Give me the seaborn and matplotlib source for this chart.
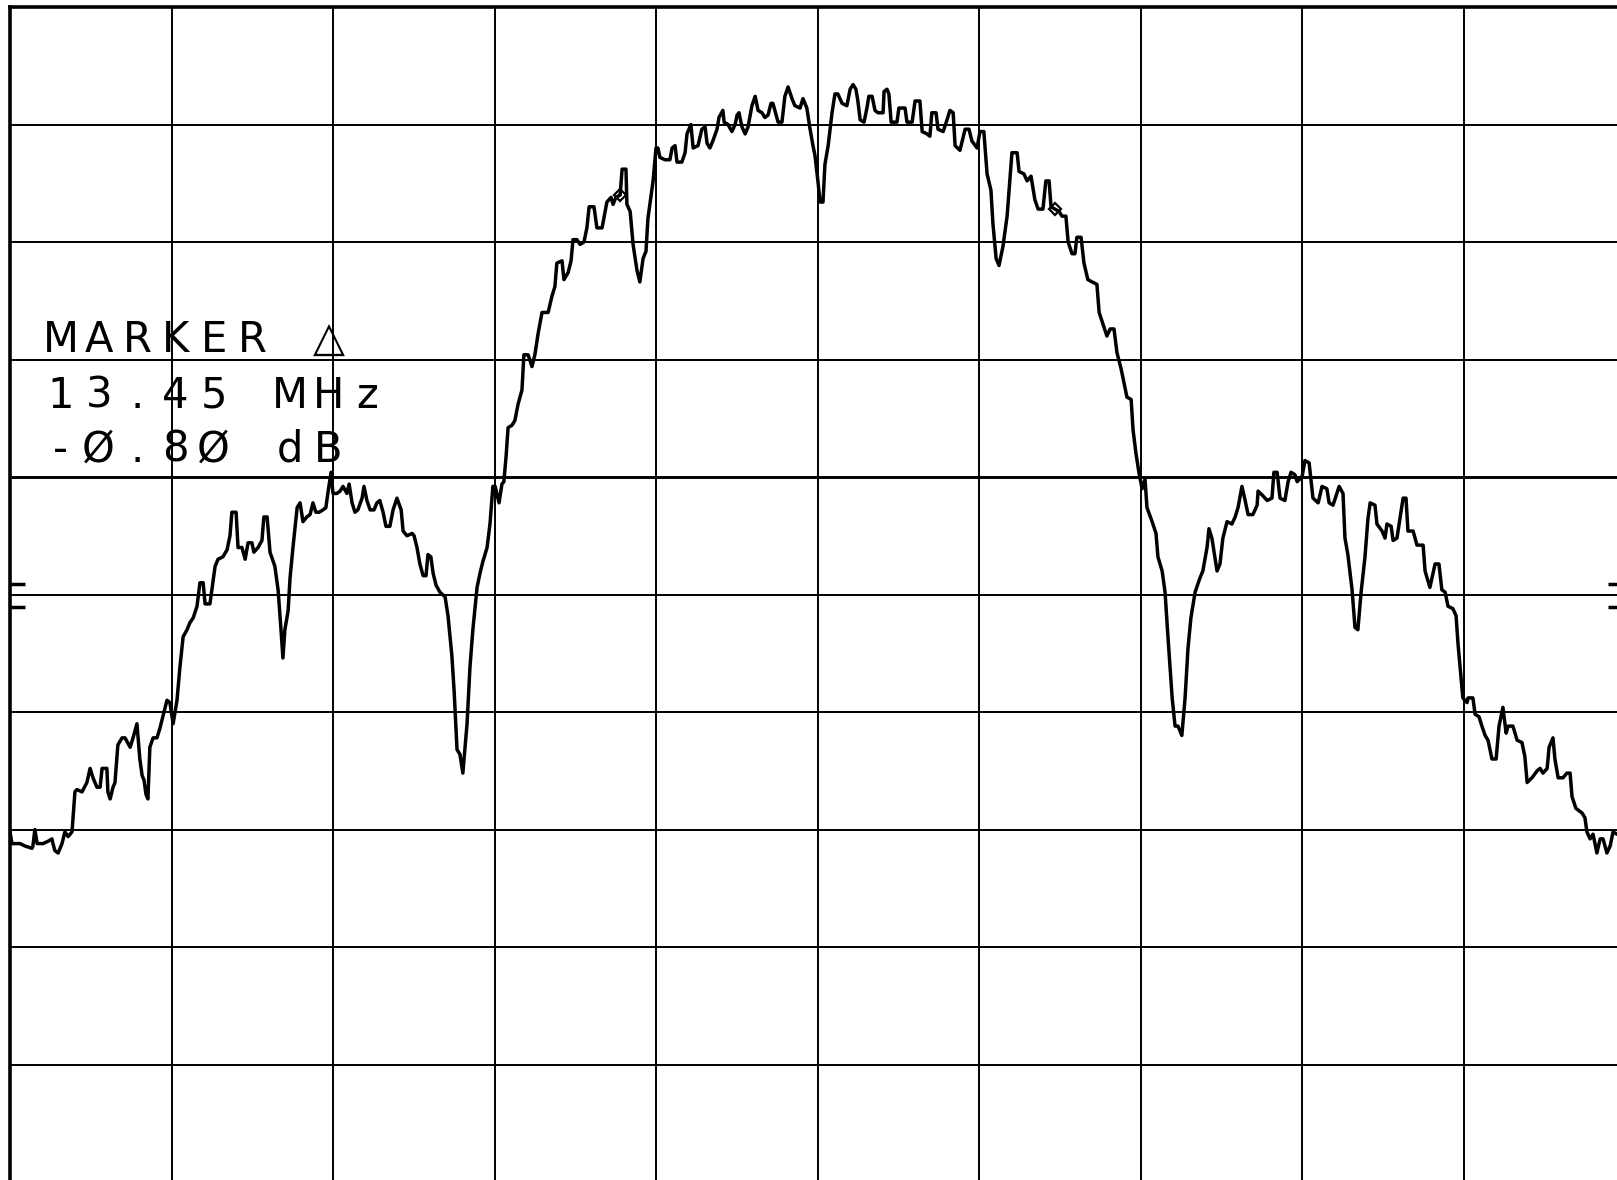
import numpy as np
import matplotlib
matplotlib.use("Agg")
import matplotlib.pyplot as plt
import seaborn as sns

# spectrum analyzer trace, 5 MHz/div around centre, 5 dB/div from reference level
freq_mhz = [
    -25.00, -24.94, -24.69, -24.54, -24.32, -24.29, -24.23, -24.16, -23.98, -23.82,
    -23.70, -23.67, -23.61, -23.51, -23.39, -23.30, -23.20, -23.08, -22.99, -22.93,
    -22.77, -22.62, -22.52, -22.43, -22.31, -22.21, -22.15, -22.00, -21.97, -21.90,
    -21.81, -21.75, -21.66, -21.53, -21.44, -21.28, -21.19, -21.07, -20.98, -20.91,
    -20.85, -20.79, -20.73, -20.67, -20.57, -20.45,
    -20.36, -20.23, -20.14, -20.05, -19.95, -19.83, -19.74, -19.64, -19.52, -19.43,
    -19.33, -19.21, -19.12, -19.02, -18.96, -18.81, -18.65, -18.56, -18.41, -18.28,
    -18.19, -18.13, -18.00, -17.94, -17.82, -17.72, -17.63, -17.51, -17.45, -17.32,
    -17.20, -17.14, -17.04, -16.95, -16.80, -16.70, -16.61, -16.55, -16.49, -16.39,
    -16.33, -16.24, -16.11, -16.02, -15.93, -15.81, -15.71, -15.62, -15.53, -15.43,
    -15.31, -15.22, -15.15, -15.06, -15.00, -14.88, -14.78, -14.69, -14.57, -14.50,
    -14.41, -14.32, -14.23, -14.10, -14.04, -13.95, -13.85, -13.73, -13.64, -13.55,
    -13.45, -13.36, -13.24, -13.14, -13.02, -12.89, -12.83, -12.71, -12.55, -12.49,
    -12.40, -12.31, -12.21, -12.12, -12.06, -11.97, -11.90, -11.81, -11.69,
    -11.53, -11.44, -11.32, -11.25, -11.16, -11.07, -10.98, -10.85, -10.76, -10.67,
    -10.54, -10.45, -10.36, -10.23, -10.14, -10.05, -9.98, -9.86, -9.77, -9.71,
    -9.64, -9.58, -9.46, -9.37, -9.27, -9.15, -9.09, -8.96, -8.84, -8.75,
    -8.65, -8.53, -8.34, -8.22, -8.13, -8.07, -7.91, -7.85, -7.72, -7.63,
    -7.57, -7.45, -7.35, -7.23, -7.14, -7.07, -6.92, -6.83, -6.67, -6.52,
    -6.39, -6.33, -6.24, -6.11, -6.05, -5.93, -5.90, -5.80, -5.71, -5.59,
    -5.50, -5.40, -5.31, -5.25,
    -5.09, -5.00, -4.94, -4.88, -4.72, -4.57, -4.50, -4.41, -4.35, -4.20,
    -4.10, -4.04, -3.92, -3.85, -3.70, -3.58, -3.48, -3.42, -3.33, -3.24,
    -3.11, -3.05, -2.93, -2.89, -2.77, -2.65, -2.55, -2.49, -2.43, -2.34,
    -2.24, -2.15, -2.03, -1.93, -1.84, -1.72, -1.63, -1.53, -1.44, -1.38,
    -1.28, -1.22, -1.10, -1.01, -0.91, -0.79, -0.70, -0.54, -0.45, -0.33,
    -0.23, -0.14, -0.08, 0.02, 0.08, 0.17, 0.23, 0.33, 0.45, 0.54,
    0.63, 0.76, 0.91, 1.01, 1.10, 1.19, 1.25, 1.32, 1.44, 1.53,
    1.59, 1.69, 1.78, 1.87, 2.03, 2.06, 2.15, 2.21, 2.28, 2.46,
    2.52, 2.71, 2.77, 2.93, 3.02, 3.17, 3.24, 3.39, 3.48, 3.54,
    3.67, 3.73, 3.89, 4.01, 4.10, 4.20, 4.26, 4.41,
    4.57, 4.69, 4.78, 4.94, 5.03, 5.15, 5.25, 5.37, 5.43, 5.53,
    5.62, 5.74, 5.87, 6.02, 6.18, 6.24, 6.39, 6.49, 6.61, 6.73,
    6.83, 6.98, 7.07, 7.17, 7.23, 7.35, 7.48, 7.57, 7.69, 7.76,
    7.88, 7.97, 8.03, 8.16, 8.25, 8.37, 8.50, 8.65, 8.72, 8.84,
    8.96, 9.06, 9.18, 9.27, 9.40, 9.49, 9.58, 9.71, 9.77, 9.86,
    9.95,
    10.05, 10.14, 10.20, 10.36, 10.48, 10.54, 10.67, 10.76, 10.85, 10.98,
    11.07, 11.16, 11.28, 11.38, 11.47, 11.56, 11.69, 11.84, 11.93, 12.06,
    12.12, 12.21, 12.37, 12.46, 12.55, 12.68, 12.83, 12.93, 13.02, 13.14,
    13.24, 13.33, 13.48, 13.61, 13.64, 13.79, 13.92, 14.07, 14.13, 14.23,
    14.32, 14.47, 14.57, 14.66, 14.78, 14.85, 15.00, 15.09, 15.22, 15.34,
    15.50, 15.62, 15.77, 15.84, 15.96, 16.08, 16.15, 16.27, 16.33, 16.42,
    16.55, 16.64, 16.73, 16.83, 16.95, 17.04, 17.11, 17.26, 17.32, 17.48,
    17.57, 17.63, 17.76, 17.82, 17.94, 18.03, 18.13, 18.22, 18.28, 18.44,
    18.56, 18.75, 18.81, 18.96,
    19.12, 19.24, 19.33, 19.43, 19.52, 19.67, 19.77, 19.83, 19.92, 19.98,
    20.11, 20.14, 20.29, 20.36, 20.48, 20.57, 20.67, 20.76, 20.88, 21.01,
    21.10, 21.22, 21.32, 21.38, 21.53, 21.66, 21.81, 21.90, 21.97, 22.12,
    22.28, 22.37, 22.46, 22.59, 22.65, 22.77, 22.83, 22.93, 23.08, 23.20,
    23.30, 23.36, 23.48, 23.67, 23.76, 23.82, 23.92, 24.01, 24.13, 24.23,
    24.32, 24.44, 24.54, 24.63, 24.75, 25.00,
]

level_db = [
    -35.1, -35.6, -35.6, -35.7, -35.8, -35.7, -35.0, -35.6, -35.6, -35.5,
    -35.4, -35.6, -35.9, -36.0, -35.6, -35.1, -35.3, -35.1, -33.4, -33.3,
    -33.4, -33.0, -32.4, -32.8, -33.2, -33.2, -32.4, -32.4, -33.4, -33.7,
    -33.2, -33.0, -31.4, -31.1, -31.1, -31.5, -31.1, -30.5, -32.0, -32.7,
    -32.9, -33.5, -33.7, -31.5, -31.1, -31.1,
    -30.7, -30.0, -29.5, -29.6, -30.5, -29.5, -28.1, -26.8, -26.5, -26.2,
    -26.0, -25.5, -24.5, -24.5, -25.4, -25.4, -23.8, -23.5, -23.4, -23.1,
    -22.5, -21.5, -21.5, -23.0, -23.0, -23.5, -22.8, -22.8, -23.2, -23.0,
    -22.7, -21.7, -21.7, -23.2, -23.8, -24.8, -26.5, -27.7, -26.5, -25.7,
    -24.3, -23.0, -21.3, -21.1, -21.9, -21.7, -21.6, -21.1, -21.5, -21.5,
    -21.4, -21.3, -20.6, -19.8, -20.7, -20.7, -20.6, -20.4, -20.7, -20.3,
    -21.1, -21.5, -21.4, -20.9, -20.4, -21.0, -21.4, -21.4, -21.1, -21.0,
    -21.5, -22.1, -22.1, -21.4, -20.9, -21.4, -22.3, -22.5, -22.4, -22.5,
    -23.0, -23.7, -24.2, -24.2, -23.3, -23.4, -24.1, -24.6, -24.9,
    -25.1, -25.9, -27.6, -29.1, -31.6, -31.8, -32.6, -30.5, -28.1, -26.5,
    -24.7, -24.1, -23.6, -23.0, -22.0, -20.4, -20.4, -21.1, -20.3, -20.2,
    -19.1, -17.9, -17.8, -17.6, -16.9, -16.3, -14.8, -14.8, -15.3, -14.8,
    -13.9, -13.0, -13.0, -12.3, -11.9, -10.9, -10.8, -11.6, -11.3, -10.8,
    -9.9, -9.9, -10.1, -10.0, -9.4, -8.5, -8.5, -9.4, -9.4, -8.3,
    -8.1, -8.4, -8.1, -8.0, -6.9, -6.9, -8.4, -8.7, -10.1, -11.2,
    -11.7, -10.7, -10.4, -9.0,
    -7.4, -6.0, -6.0, -6.4, -6.5, -6.5, -6.0, -5.9, -6.6, -6.6,
    -6.2, -5.4, -5.0, -6.0, -5.9, -5.2, -5.1, -5.8, -6.0, -5.7,
    -5.2, -4.7, -4.4, -4.9, -5.0, -5.3, -5.0, -4.6, -4.5, -5.1,
    -5.4, -5.1, -4.2, -3.8, -4.4, -4.5, -4.7, -4.6, -4.1, -4.1,
    -4.6, -4.9, -4.9, -3.8, -3.4, -3.9, -4.2, -4.3, -3.9, -4.3,
    -5.2, -5.9, -6.3, -7.5, -8.3, -8.3, -6.7, -5.9, -4.5, -3.7,
    -3.7, -4.1, -4.2, -3.5, -3.3, -3.5, -4.0, -4.8, -4.9, -4.3,
    -3.8, -3.8, -4.4, -4.5, -4.5, -3.6, -3.5, -3.7, -4.9, -4.9,
    -4.3, -4.3, -4.9, -4.9, -4.0, -4.0, -5.3, -5.4, -5.5, -4.5,
    -4.5, -5.2, -5.3, -4.8, -4.4, -4.5, -5.9, -6.1,
    -5.2, -5.2, -5.7, -6.0, -5.3, -5.3, -7.1, -7.8, -9.2, -10.7,
    -11.0, -10.2, -8.9, -6.2, -6.2, -7.0, -7.1, -7.4, -7.2, -8.2,
    -8.6, -8.6, -7.4, -7.4, -8.5, -8.6, -8.7, -8.9, -8.9, -10.0,
    -10.5, -10.5, -9.8, -9.8, -10.9, -11.6, -11.7, -11.8, -13.0, -13.5,
    -14.0, -13.7, -13.7, -14.7, -15.4, -16.0, -16.6, -16.7, -18.0, -19.0,
    -19.8,
    -20.5, -20.1, -21.3, -21.9, -22.4, -23.4, -24.0, -24.9, -26.8, -29.4,
    -30.6, -30.6, -31.0, -29.4, -27.3, -26.0, -24.9, -24.3, -24.0, -23.0,
    -22.2, -22.6, -24.0, -23.7, -22.6, -21.9, -22.0, -21.7, -21.3, -20.4,
    -21.0, -21.6, -21.6, -21.2, -20.6, -20.8, -21.0, -20.9, -19.8, -19.8,
    -20.9, -21.0, -20.2, -19.8, -19.9, -20.2, -20.0, -19.3, -19.4, -20.9,
    -21.1, -20.4, -20.5, -21.1, -21.2, -20.7, -20.4, -20.7, -22.6, -23.3,
    -24.8, -26.4, -26.5, -24.9, -23.4, -21.8, -21.1, -21.2, -22.0, -22.3,
    -22.6, -22.0, -22.1, -22.7, -22.6, -21.8, -20.9, -20.9, -22.3, -22.3,
    -22.9, -22.9, -24.0, -24.7,
    -23.7, -23.7, -24.8, -24.9, -25.5, -25.6, -25.9, -27.1, -28.5, -29.4,
    -29.6, -29.4, -29.4, -30.1, -30.2, -30.6, -31.0, -31.2, -32.0, -32.0,
    -30.6, -29.8, -30.9, -30.6, -30.6, -31.2, -31.3, -31.9, -33.0, -32.8,
    -32.5, -32.4, -32.6, -32.4, -31.5, -31.1, -32.0, -32.8, -32.8, -32.6,
    -32.6, -33.6, -34.1, -34.3, -34.5, -35.1, -35.4, -35.2, -36.0, -35.4,
    -35.4, -36.0, -35.7, -35.1, -35.2, -35.2,
]

marker_freq = [-6.11, 7.35]
marker_level = [-8.0, -8.6]
display_line_db = [-24.55, -25.53]
readout = ["MARKER △", "13.45 MHz", "-Ø.8Ø dB"]

sns.set_style("white")
plt.rcParams['font.family'] = ['DejaVu Sans']

fig = plt.figure(figsize=(16.17, 11.80), dpi=100)
ax = fig.add_axes([10 / 1617, -2 / 1180, 1615 / 1617, 1175 / 1180])
ax.set_xlim(-25, 25)
ax.set_ylim(-50, 0)

# graticule
for f in np.arange(-20, 25, 5):
    ax.axvline(f, color='black', lw=1.4, zorder=1)
for lvl in np.arange(-45, 0, 5):
    ax.axhline(lvl, color='black', lw=2.1 if lvl == -20 else 1.4, zorder=1)

ax.hlines(display_line_db, -25, -24.55, color='black', lw=2.5)
ax.hlines(display_line_db, 24.48, 25, color='black', lw=2.5)

sns.lineplot(x=freq_mhz, y=level_db, sort=False, estimator=None,
             color='black', lw=2.5, ax=ax, zorder=3)
ax.plot(marker_freq, marker_level, 'D', ms=6, mfc='none', mec='black',
        mew=1.6, zorder=4)

for s in ax.spines.values():
    s.set_linewidth(2.6)
    s.set_color('black')
ax.set_xticks([])
ax.set_yticks([])
ax.set_xlabel('')
ax.set_ylabel('')

# marker readout, one character per cell like the plotter font
x0 = 60.5 / 1617
pitch = 38.3 / 1617
baselines = [1 - 352 / 1180, 1 - 408 / 1180, 1 - 462 / 1180]
for line, yb in zip(readout, baselines):
    for j, ch in enumerate(line):
        if ch == ' ':
            continue
        fig.text(x0 + j * pitch, yb, ch, ha='center', va='baseline',
                 fontsize=30, color='black')

fig.savefig('out.png', dpi=100)
